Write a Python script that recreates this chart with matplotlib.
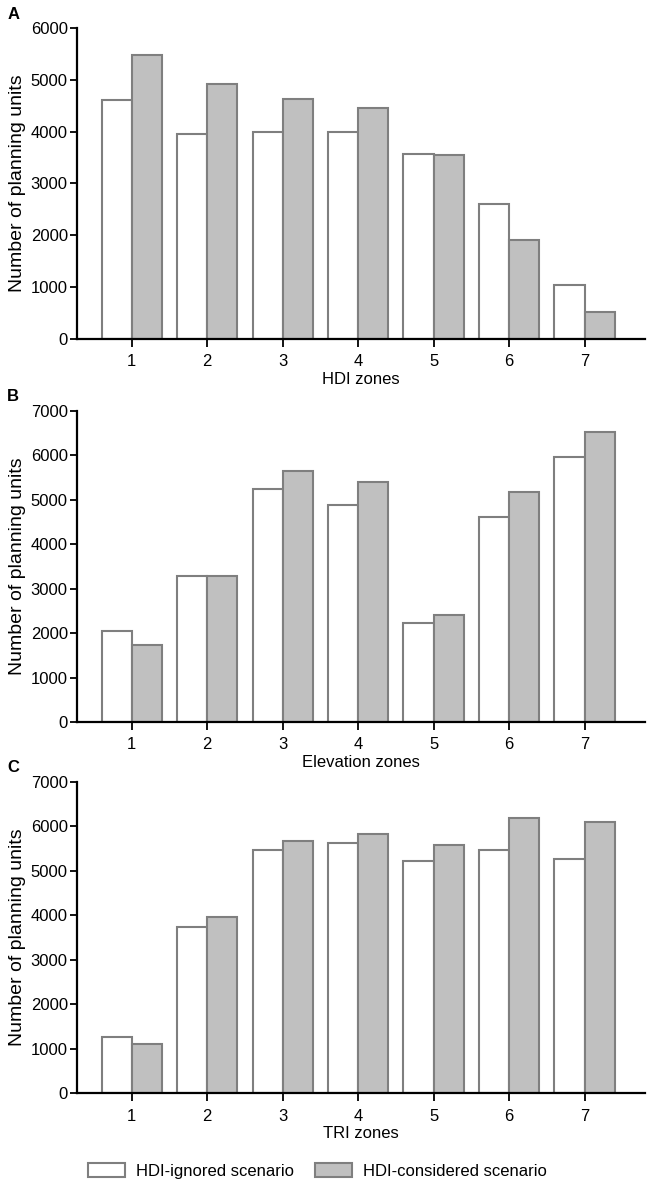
import numpy as np
import matplotlib
matplotlib.use("Agg")
import matplotlib.pyplot as plt

plt.rcParams['font.family'] = ['Liberation Sans', 'DejaVu Sans']

zones = [1, 2, 3, 4, 5, 6, 7]

# Panel A - HDI zones
hdi_ignored = [4600, 3950, 4000, 4000, 3570, 2600, 1040]
hdi_considered = [5470, 4920, 4620, 4450, 3540, 1910, 515]

# Panel B - Elevation zones
elev_ignored = [2040, 3290, 5230, 4880, 2230, 4610, 5950]
elev_considered = [1730, 3290, 5650, 5390, 2400, 5180, 6530]

# Panel C - TRI zones
tri_ignored = [1270, 3730, 5470, 5630, 5230, 5480, 5270]
tri_considered = [1100, 3970, 5670, 5840, 5580, 6200, 6100]

panels = [
    ("A", "HDI zones", hdi_ignored, hdi_considered, 6000),
    ("B", "Elevation zones", elev_ignored, elev_considered, 7000),
    ("C", "TRI zones", tri_ignored, tri_considered, 7000),
]
legend_labels = ["HDI-ignored scenario", "HDI-considered scenario"]

fig = plt.figure(figsize=(6.54, 11.85), dpi=100)
bottoms = [0.7142, 0.3907, 0.0774]
heights = [0.2622, 0.2627, 0.2627]
letter_y = [0.988, 0.665, 0.352]

fs = 12
edge = "#7f7f7f"
x = np.array(zones)
w = 0.4
for i, (letter, xlabel, ign, con, ymax) in enumerate(panels):
    ax = fig.add_axes([0.1185, bottoms[i], 0.8677, heights[i]])
    b1 = ax.bar(x - w / 2, ign, width=w, color="white", edgecolor=edge, linewidth=1.5,
                label=legend_labels[0])
    b2 = ax.bar(x + w / 2, con, width=w, color="#c0c0c0", edgecolor=edge, linewidth=1.5,
                label=legend_labels[1])
    ax.set_xlim(0.28, 7.8)
    ax.set_ylim(0, ymax)
    ax.set_yticks(np.arange(0, ymax + 1, 1000))
    ax.set_xticks(zones)
    ax.spines["top"].set_visible(False)
    ax.spines["right"].set_visible(False)
    ax.spines["left"].set_linewidth(1.6)
    ax.spines["bottom"].set_linewidth(1.6)
    ax.tick_params(axis="y", length=5, width=1.3, labelsize=fs, pad=2)
    ax.tick_params(axis="x", length=6, width=1.3, labelsize=fs, pad=5)
    ax.set_xlabel(xlabel, fontsize=fs, labelpad=2)
    ax.set_ylabel("Number of planning units", fontsize=14, labelpad=3)
    fig.text(0.011, letter_y[i], letter, fontsize=12, fontweight="bold", va="center")

handles = [b1, b2]
fig.legend(handles, legend_labels, loc="center", bbox_to_anchor=(0.4855, 0.012), ncol=2,
           frameon=False, fontsize=fs, handlelength=2.2, handleheight=0.87,
           handletextpad=0.65, columnspacing=1.3)

fig.savefig("out.png", dpi=100)
